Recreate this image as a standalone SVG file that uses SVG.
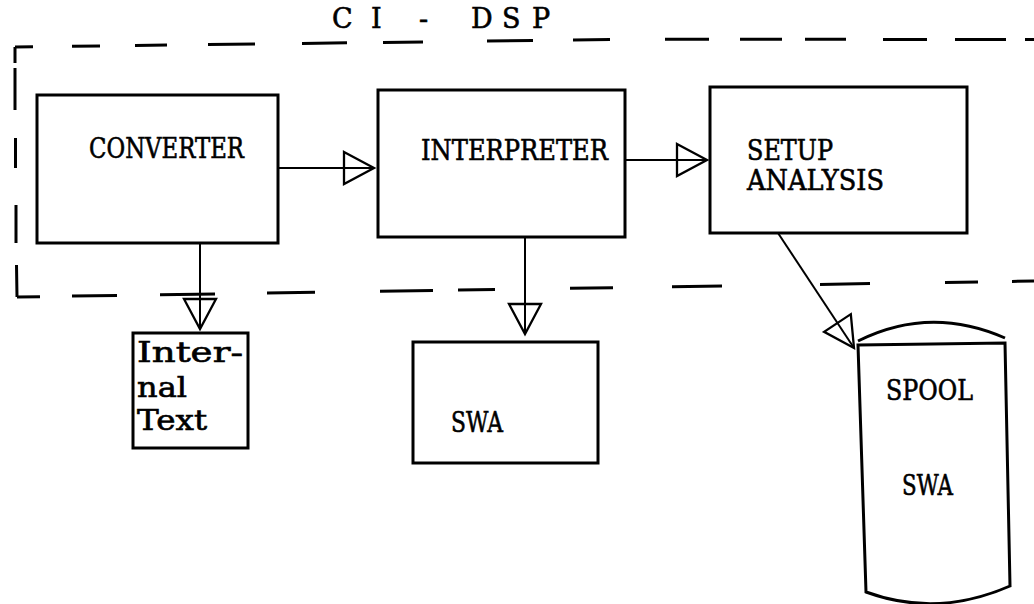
<svg xmlns="http://www.w3.org/2000/svg" width="1034" height="604" viewBox="0 0 1034 604">
<style>
  .box { fill: none; stroke: #000; stroke-width: 3; }
  .conn { fill: none; stroke: #000; stroke-width: 2; }
  .dash { fill: none; stroke: #000; stroke-width: 3; }
  .t { font-family: "DejaVu Serif", "Liberation Serif", serif; font-size: 27px; fill: #000; stroke: #000; stroke-width: 0.6; }
  .title { font-family: "DejaVu Serif", "Liberation Serif", serif; font-size: 27px; fill: #000; stroke: #000; stroke-width: 0.6; }
</style>
<defs>
  <marker id="tri" markerUnits="userSpaceOnUse" viewBox="-3 -19 36 38" refX="30" refY="0" markerWidth="36" markerHeight="38" orient="auto">
    <path d="M0,-16 L30,0 L0,16 Z" fill="none" stroke="#000" stroke-width="2.3" stroke-linejoin="miter"/>
  </marker>
</defs>
<rect width="1034" height="604" fill="#fff"/>

<g id="boundary">
  <path class="dash" d="M15,47 L33,46.8 M72,46.3 L100,46 M135,45.5 L167,45.1 M208,44.6 L255,44 M302,43.4 L347,42.8 M383,42.4 L423,41.9 M487,41.1 L533,40.5 M573,40.1 L610,39.6 M665,39.2 L709,39.2 M740,39.3 L782,39.3 M805,39.3 L846,39.3 M883,39.4 L927,39.4 M955,39.4 L1006,39.5 M1025,39.5 L1034,39.5"/>
  <path class="dash" d="M15,47 L15,63 M15,68 L15,110 M15.5,138 L15.5,168 M16,205 L16,243 M16.5,265 L17,297"/>
  <path class="dash" d="M17,297 L40,296.7 M72,296.1 L117,295.4 M160,294.8 L215,293.9 M267,293.1 L315,292.3 M380,291.3 L433,290.5 M458,290.1 L495,289.5 M570,288.3 L613,287.7 M672,286.7 L722,285.9 M820,284.4 L870,283.6 M945,282.4 L978,281.9 M1012,281.4 L1034,281"/>
  <text class="title" x="332 352 371 396 419 446 471 487 502 518 532" y="28">C I - D S P</text>
</g>

<g id="connectors">
  <line class="conn" x1="278" y1="168" x2="374" y2="168" marker-end="url(#tri)"/>
  <line class="conn" x1="625" y1="160" x2="707" y2="160" marker-end="url(#tri)"/>
  <line class="conn" x1="200" y1="243" x2="200" y2="329" marker-end="url(#tri)"/>
  <line class="conn" x1="525" y1="237" x2="525" y2="334" marker-end="url(#tri)"/>
  <line class="conn" x1="778" y1="233" x2="854" y2="348" marker-end="url(#tri)"/>
</g>

<g id="converter">
  <rect class="box" x="37" y="95" width="241" height="148"/>
  <text class="t" x="89" y="158" textLength="155" lengthAdjust="spacingAndGlyphs">CONVERTER</text>
</g>

<g id="interpreter">
  <rect class="box" x="378" y="90" width="247" height="147"/>
  <text class="t" x="421" y="160" textLength="187" lengthAdjust="spacingAndGlyphs">INTERPRETER</text>
</g>

<g id="setup-analysis">
  <rect class="box" x="710" y="87" width="257" height="146"/>
  <text class="t" x="747" y="160" textLength="86" lengthAdjust="spacingAndGlyphs">SETUP</text>
  <text class="t" x="747" y="190" textLength="137" lengthAdjust="spacingAndGlyphs">ANALYSIS</text>
</g>

<g id="internal-text">
  <rect class="box" x="133" y="333" width="115" height="115"/>
  <text class="t" x="137" y="362" textLength="106" lengthAdjust="spacingAndGlyphs">Inter-</text>
  <text class="t" x="137" y="397" textLength="50" lengthAdjust="spacingAndGlyphs">nal</text>
  <text class="t" x="137" y="430" textLength="70" lengthAdjust="spacingAndGlyphs">Text</text>
</g>

<g id="swa">
  <rect class="box" x="413" y="342" width="185" height="121"/>
  <text class="t" x="451" y="432" textLength="52" lengthAdjust="spacingAndGlyphs">SWA</text>
</g>

<g id="spool">
  <path class="box" d="M858,345 L1005,343 L1010,586 Q937,618 866,592 Z"/>
  <path class="box" d="M858,341 Q930,305 1005,338"/>
  <text class="t" x="886" y="400" textLength="87" lengthAdjust="spacingAndGlyphs">SPOOL</text>
  <text class="t" x="902" y="495" textLength="51" lengthAdjust="spacingAndGlyphs">SWA</text>
</g>
</svg>
